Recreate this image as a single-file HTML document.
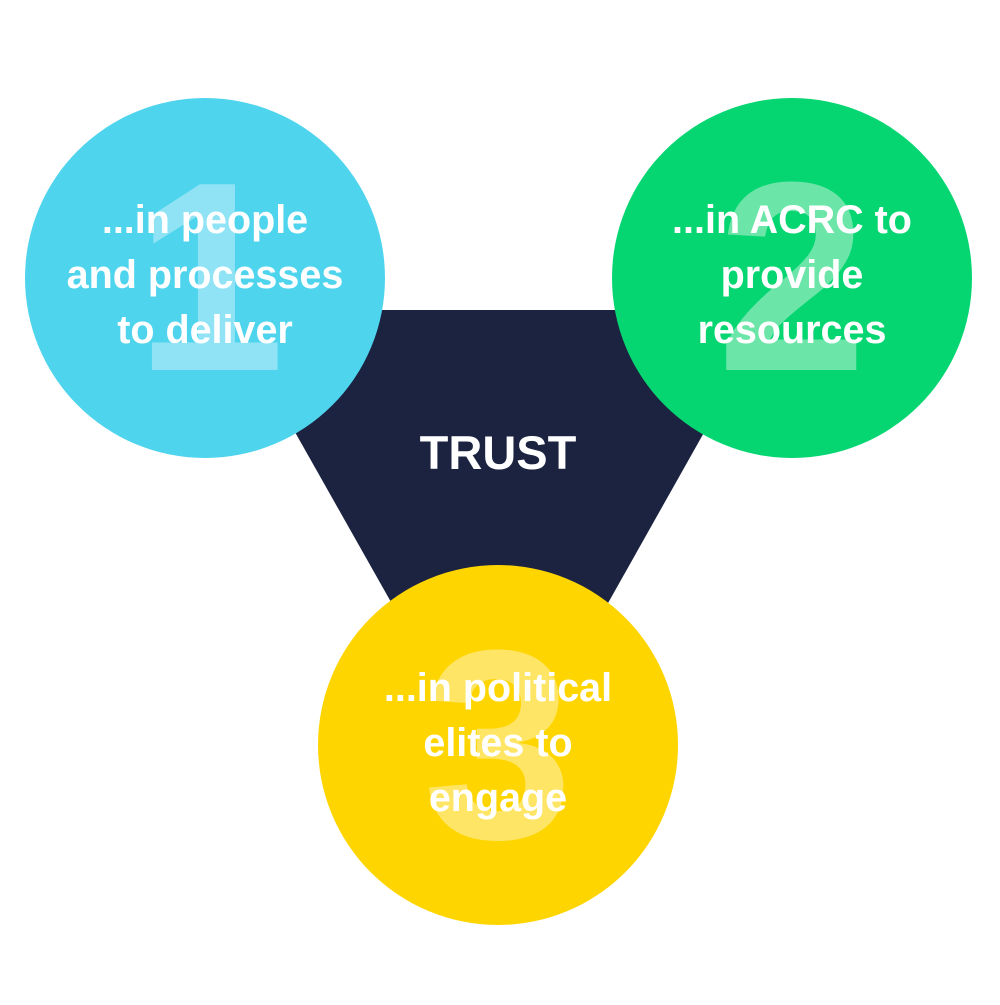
<!DOCTYPE html>
<html><head><meta charset="utf-8"><style>html,body{margin:0;padding:0;background:#fff}</style></head>
<body>
<svg width="1000" height="1000" viewBox="0 0 1000 1000" xmlns="http://www.w3.org/2000/svg" font-family="Liberation Sans, Arial, sans-serif" font-weight="bold">
<rect width="1000" height="1000" fill="#fff"/>
<polygon points="226,310 773,310 500,795" fill="#1b2340"/>
<circle cx="205" cy="278" r="180" fill="#4fd4ee"/>
<circle cx="792" cy="278" r="180" fill="#05d672"/>
<circle cx="498" cy="745" r="180" fill="#ffd500"/>
<g font-size="270" text-anchor="middle">
<text x="210" y="370" fill="#8fe3f5">1</text>
<text x="792" y="370" fill="#6ce6a8">2</text>
<text x="498" y="838" fill="#ffe566">3</text>
</g>
<g font-size="39.5" fill="#fff" text-anchor="middle">
<text x="205" y="233">...in people</text>
<text x="205" y="288">and processes</text>
<text x="205" y="343">to deliver</text>
<text x="792" y="233">...in ACRC to</text>
<text x="792" y="288">provide</text>
<text x="792" y="343">resources</text>
<text x="498" y="701">...in political</text>
<text x="498" y="756">elites to</text>
<text x="498" y="811">engage</text>
<text x="498" y="469" font-size="47">TRUST</text>
</g>
</svg>
</body></html>
